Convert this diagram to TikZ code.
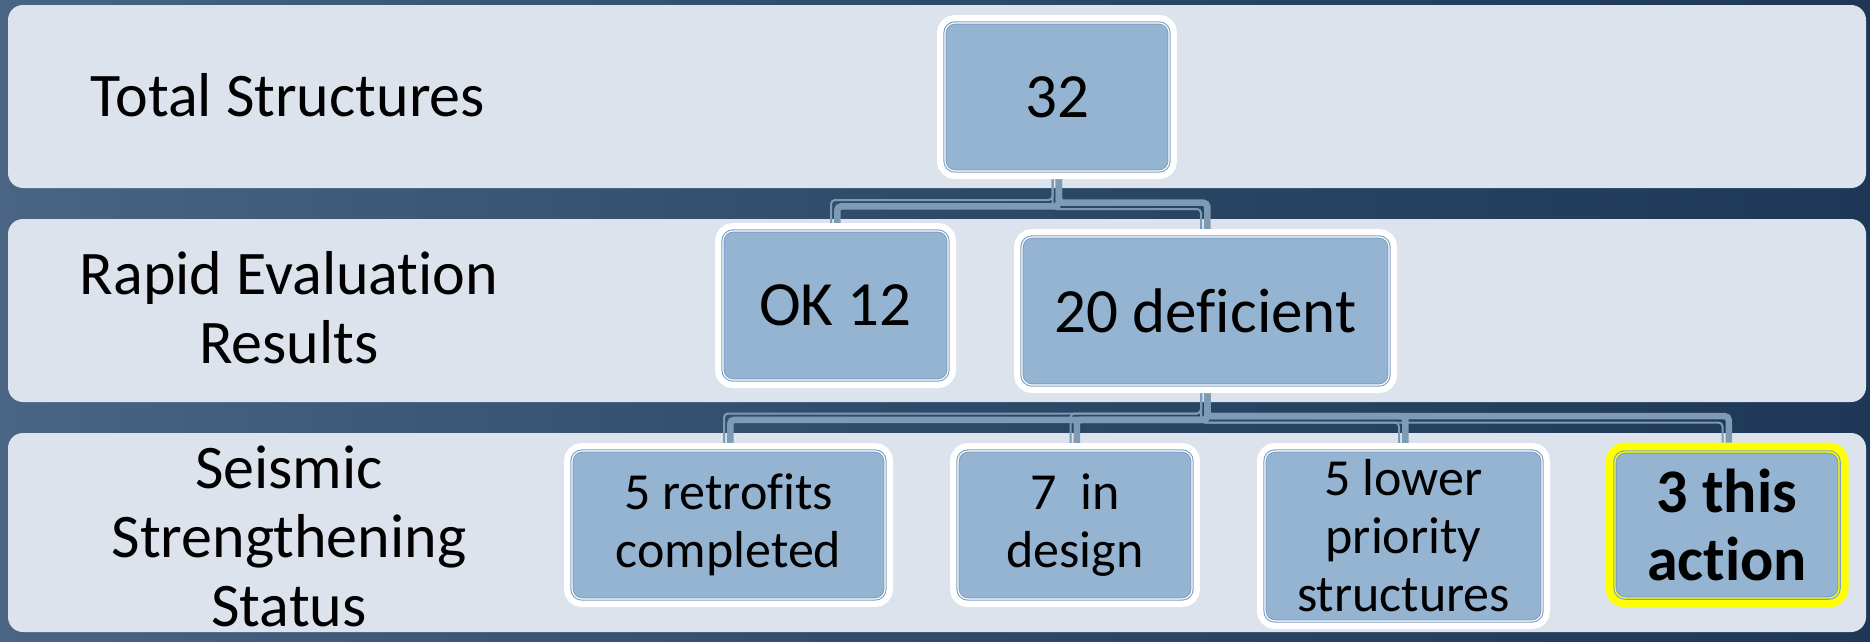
\documentclass[tikz,border=0pt]{standalone}
\usepackage{fontspec}
\setmainfont{Carlito}[Ligatures=NoCommon, RawFeature={-clig}]
\usetikzlibrary{calc}
\pgfdeclarelayer{bglayer}
\pgfdeclarelayer{connlayer}
\pgfsetlayers{bglayer,connlayer,main}
\definecolor{bandc}{HTML}{DCE3ED}
\definecolor{boxfill}{HTML}{95B4D2}
\definecolor{boxline}{HTML}{7FA0C2}
\definecolor{connc}{HTML}{7E9BB6}
\definecolor{bgL}{HTML}{4A6483}
\definecolor{bgM}{HTML}{2E4A69}
\definecolor{bgR}{HTML}{1E3756}
\definecolor{hiyel}{HTML}{FFFF00}
\newcommand\elbowconn[4]{%
  \draw[connthick] ($(#1.south)+(1.8,0)$) -- ($(#1.south |- #3)+(1.8,{-1.8*(#4)})$) -- ($(#2.north |- #3)+(1.8,{-1.8*(#4)})$) -- ($(#2.north)+(1.8,0)$);
  \draw[connthin] ($(#1.south)+(-4.5,0)$) -- ($(#1.south |- #3)+(-4.5,{4.5*(#4)})$) -- ($(#2.north |- #3)+(-4.5,{4.5*(#4)})$) -- ($(#2.north)+(-4.5,0)$);}
\begin{document}
\begin{tikzpicture}[x=1pt,y=-1pt,
  every node/.style={inner sep=0pt, outer sep=0pt},
  band/.style={fill=bandc, rounded corners=15pt},
  rowlabel/.style={align=center, font=\fontsize{62}{69}\selectfont},
  boxbase/.style={rectangle, rounded corners=10pt, fill=boxfill, align=center},
  box/.style={boxbase,
    preaction={draw=white, line width=16pt},
    postaction={draw=boxline, line width=1.1pt, double=white, double distance=1.1pt}},
  hotbox/.style={boxbase,
    preaction={draw=hiyel, line width=19pt},
    postaction={draw=boxline, line width=1.1pt, double=hiyel, double distance=1.3pt}},
  bigtext/.style={font=\fontsize{63}{70}\selectfont},
  smalltext/.style={font=\fontsize{52}{58}\selectfont},
  connthick/.style={draw=connc, line width=6.5pt, rounded corners=4pt},
  connthin/.style={draw=connc, line width=2pt, rounded corners=4pt}]
\useasboundingbox (0,0) rectangle (1870,641);
\begin{pgfonlayer}{bglayer}
  \shade[left color=bgL, right color=bgR, middle color=bgM] (0,0) rectangle (1870,641);
  \fill[band] (8,5) rectangle (1866,188);
  \fill[band] (8,219) rectangle (1866,402);
  \fill[band] (8,433) rectangle (1866,632);
\end{pgfonlayer}
% row labels
\node[rowlabel] (l1) at (288,95) {Total Structures};
\node[rowlabel] (l2) at (289,308) {Rapid Evaluation\\Results};
\node[rowlabel] (l3) at (289,536) {Seismic\\Strengthening\\Status};
% boxes
\node[box, bigtext, minimum width=224pt, minimum height=148pt] (n32) at (1057,97) {32};
\node[box, bigtext, minimum width=225pt, minimum height=149pt] (nok) at (835.5,305.5) {OK 12};
\node[box, bigtext, minimum width=367pt, minimum height=148pt] (ndef) at (1205.5,311) {20 deficient};
\node[box, smalltext, minimum width=313pt, minimum height=148pt] (nret) at (728.5,525) {5 retrofits\\completed};
\node[box, smalltext, minimum width=234pt, minimum height=148pt] (ndes) at (1075,525) {7\ \ in\\design};
\node[box, smalltext, minimum width=277pt, minimum height=170pt] (nlow) at (1403.5,536) {5 lower\\priority\\structures};
\node[hotbox, font=\fontsize{62}{68}\selectfont\bfseries, minimum width=224pt, minimum height=146pt] (nact) at (1727,525) {3 this\\action};
% connectors
\coordinate (m1) at (0,204.5);
\coordinate (m2) at (0,418);
\begin{pgfonlayer}{connlayer}
  \elbowconn{n32}{nok}{m1}{-1}
  \elbowconn{n32}{ndef}{m1}{1}
  \elbowconn{ndef}{nret}{m2}{-1}
  \elbowconn{ndef}{ndes}{m2}{-1}
  \elbowconn{ndef}{nlow}{m2}{1}
  \elbowconn{ndef}{nact}{m2}{1}
\end{pgfonlayer}
\end{tikzpicture}
\end{document}
